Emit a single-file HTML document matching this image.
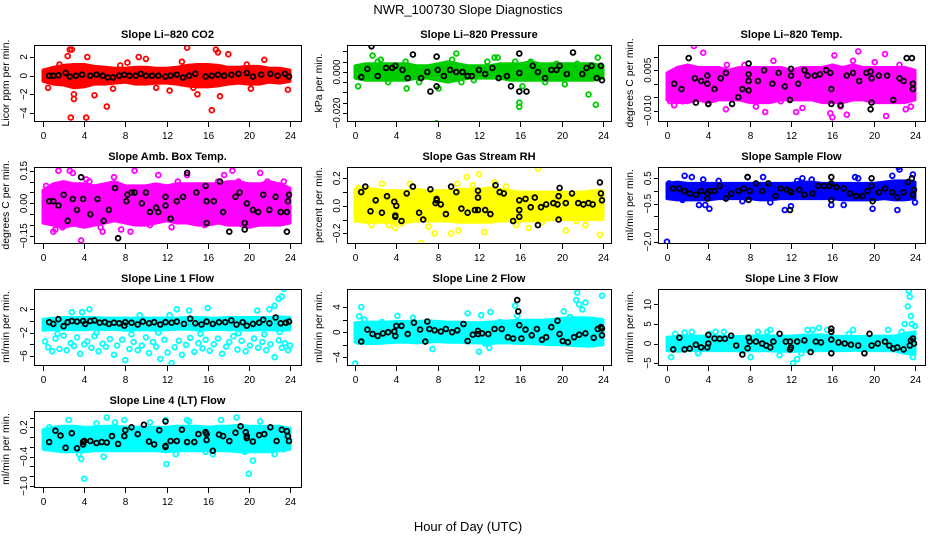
<!DOCTYPE html>
<html><head><meta charset="utf-8"><title>NWR_100730 Slope Diagnostics</title>
<style>
html,body{margin:0;padding:0;background:#fff;}
svg{display:block;font-family:"Liberation Sans",sans-serif;}
</style></head>
<body>
<svg id="chart" width="936" height="540" viewBox="0 0 936 540">
<rect x="0" y="0" width="936" height="540" fill="#fff"/>
<text x="468" y="14" text-anchor="middle" font-size="13">NWR_100730  Slope Diagnostics</text>
<text x="468" y="531" text-anchor="middle" font-size="13">Hour of Day (UTC)</text>
</svg>
<script>
// ---- shared x ticks ----
const hourTicks = [0,4,8,12,16,20,24];
const bandHours = [0,1,2,3,4,5,6,7,8,9,10,11,12,13,14,15,16,17,18,19,20,21,22,23,24];

// ---- Panel 1: CO2 ----
const co2Lo = [-0.6,-0.9,-1.0,-1.3,-1.2,-0.9,-0.9,-0.8,-0.7,-0.9,-0.9,-0.8,-0.8,-0.9,-1.1,-1.2,-1.2,-1.1,-0.9,-0.8,-0.9,-0.9,-0.7,-0.8,-0.6];
const co2Hi = [0.6,0.9,1.1,1.2,1.2,1.0,0.9,0.8,0.8,0.9,0.9,0.8,0.8,0.9,1.1,1.2,1.2,1.1,0.9,0.9,1.0,1.0,0.8,0.8,0.6];
const co2Out = [[2.6,2.8],[2.8,2.8],[2.4,2.1],[2.7,-4.5],[3.0,-2.0],[3.0,-2.5],[4.2,-4.5],[6.2,-3.3],[4.3,2.0],[5.0,-2.1],[9.3,2.0],[10.0,1.8],[13.5,1.5],[14.0,3.0],[15.0,-2.0],[16.4,-3.7],[16.8,2.8],[17.0,2.5],[17.2,-2.2],[18.0,2.3],[12.3,-1.6],[21.5,1.7],[23.8,-1.5],[0.5,-1.3],[8.2,1.4],[19.8,1.2],[11.0,-1.3],[1.6,1.2],[6.8,-1.4],[14.6,-1.3],[20.2,-1.4],[7.5,1.1]];
const co2Blk = [[0.6,0],[1,0],[1.5,0.05],[2.2,0.3],[2.6,-0.1],[3.2,0],[3.8,0.1],[4.6,0],[5.2,0.1],[5.8,0],[6.3,-0.2],[6.8,-0.2],[7.4,0],[7.9,0.1],[8.4,0],[9.0,0],[9.5,0.2],[10,0],[10.6,0],[11.2,0],[11.9,-0.1],[12.4,0],[13,0.1],[13.6,-0.2],[14.2,0],[14.8,0.2],[15.8,-0.1],[16.4,0],[17,0.1],[17.6,0],[18.3,0.1],[19,0.2],[19.8,0.3],[20.4,-0.1],[21.2,0.1],[22.1,0.2],[22.8,0],[23.5,0.2],[23.9,-0.1]];

// ---- Panel 2: Pressure ----
const presLo = [-0.003,-0.004,-0.004,-0.004,-0.004,-0.004,-0.003,-0.003,-0.004,-0.005,-0.004,-0.003,-0.003,-0.003,-0.003,-0.004,-0.004,-0.004,-0.004,-0.004,-0.004,-0.004,-0.004,-0.004,-0.003];
const presHi = [0.003,0.004,0.004,0.004,0.004,0.004,0.003,0.003,0.004,0.005,0.004,0.003,0.003,0.003,0.004,0.004,0.004,0.005,0.004,0.004,0.004,0.004,0.004,0.004,0.003];
const presOut = [[0.3,-0.007],[1.7,0.008],[2.2,0.005],[3.2,-0.005],[5.0,-0.008],[7.9,-0.025],[8.1,-0.008],[9.4,0.006],[9.8,0.009],[10.3,-0.005],[13.5,0.007],[13.8,0.007],[15.9,-0.015],[15.9,-0.017],[15.5,0.005],[16.2,-0.007],[17.0,0.005],[18.4,-0.005],[19.5,0.004],[22.6,-0.011],[23.3,-0.016],[23.5,0.007],[24.0,-0.026],[21.5,0.004],[11.5,-0.004],[6.2,-0.005],[2.5,0.006],[4.9,0.005],[12.8,0.005],[20.3,-0.006]];
const presBlk = [[0.6,-0.0025],[1.2,0.0015],[1.6,0.0125],[2.2,-0.002],[3.0,0.002],[3.6,0.002],[3.9,0.003],[4.6,0.001],[5.1,-0.003],[5.6,0.0085],[6.4,-0.003],[7.0,0],[7.3,-0.0095],[7.9,-0.007],[7.9,0.0075],[8.0,0.001],[8.6,-0.002],[9.2,0.001],[9.8,0],[10.4,0],[10.9,-0.002],[11.3,-0.002],[12.0,0.001],[12.6,-0.001],[13.3,0.002],[13.9,-0.003],[14.7,-0.002],[15.1,-0.007],[15.9,-0.0005],[15.9,0.009],[15.9,-0.0095],[16.6,-0.0095],[17.2,0.003],[17.7,0],[18.4,-0.003],[19.0,0.001],[19.5,0.001],[19.8,0.003],[20.5,-0.001],[21.1,0.0095],[22.0,-0.001],[22.4,0.002],[22.9,0.003],[23.4,-0.003],[23.8,0.003],[23.9,-0.004]];

// ---- Panel 3: Li-820 Temp ----
const tempLo = [-0.006,-0.007,-0.007,-0.006,-0.007,-0.006,-0.006,-0.006,-0.007,-0.007,-0.007,-0.006,-0.006,-0.006,-0.006,-0.007,-0.007,-0.007,-0.006,-0.006,-0.007,-0.007,-0.007,-0.007,-0.006];
const tempHi = [0.004,0.006,0.007,0.006,0.006,0.006,0.005,0.006,0.006,0.006,0.006,0.006,0.005,0.006,0.006,0.006,0.007,0.006,0.007,0.006,0.006,0.006,0.006,0.006,0.005];
const tempOut = [[2.6,0.014],[3.5,0.0115],[0.7,-0.008],[1.5,-0.0065],[2.7,-0.004],[5.7,-0.0095],[9.5,-0.0105],[11,-0.0065],[12.5,-0.0105],[13.1,-0.009],[15.8,-0.011],[16.0,-0.0125],[16.2,0.0105],[17.4,-0.0115],[18.5,0.012],[21.1,0.011],[21.2,-0.012],[23.1,-0.0095],[23.6,-0.0085],[16.8,-0.0085],[18.0,0.0085],[10.3,0.0085],[5.8,0.007],[7.5,0.007],[0.3,-0.0065],[4.0,-0.0075],[8.6,-0.0085],[20.1,0.008],[22.5,0.007]];
const tempBlk = [[0.7,0.000],[1.4,-0.002],[2.1,0.0095],[2.7,0.002],[2.8,-0.007],[3.3,0.001],[3.9,0.003],[3.9,0],[4.0,-0.0075],[4.6,-0.002],[5.2,0.002],[5.7,0.004],[6.3,-0.0075],[6.9,-0.005],[7.3,-0.002],[7.9,-0.0025],[7.9,0.001],[7.9,0.0075],[7.9,0.0035],[8.8,0.001],[9.4,0.005],[10.2,0],[10.8,0.004],[11.4,-0.001],[11.9,-0.006],[12.0,0.003],[12.0,0.0055],[12.7,0],[13.3,0.005],[13.6,0.003],[14.3,0.003],[14.8,0.0035],[15.4,0.005],[15.8,0.004],[15.9,-0.002],[15.9,-0.0075],[16.8,-0.008],[17.4,0.003],[18.0,0.004],[18.6,0.001],[19.3,0.004],[19.7,0.0045],[19.8,0.002],[19.8,-0.007],[19.7,-0.0095],[20.5,0.003],[21.3,0.003],[21.9,-0.006],[22.5,0.002],[22.9,0.001],[23.2,0.0095],[23.7,0.0095],[23.8,0],[23.8,-0.002]];

// ---- Panel 4: Amb. Box Temp ----
const ambLo = [-0.09,-0.10,-0.11,-0.10,-0.11,-0.10,-0.09,-0.08,-0.09,-0.10,-0.10,-0.09,-0.08,-0.09,-0.09,-0.10,-0.10,-0.09,-0.10,-0.10,-0.11,-0.10,-0.10,-0.10,-0.09];
const ambHi = [0.06,0.09,0.10,0.09,0.09,0.08,0.09,0.10,0.08,0.08,0.08,0.09,0.08,0.09,0.09,0.09,0.09,0.09,0.10,0.10,0.09,0.09,0.10,0.09,0.07];
const ambOut = [[0.3,0.08],[0.5,-0.08],[1.2,-0.12],[1.5,0.15],[1.9,-0.11],[2.6,0.15],[2.9,0.14],[3.7,-0.17],[4.2,0.11],[4.5,0.1],[5.6,-0.11],[6.4,0.08],[6.9,0.12],[7.6,-0.12],[8.9,0.15],[9.5,-0.08],[10.4,-0.1],[10.8,0.05],[11.2,0.13],[12.5,-0.11],[13.1,0.1],[14.0,0.13],[14.5,-0.07],[15.7,-0.1],[17.0,0.1],[17.6,0.13],[18.4,0.15],[19.0,0.1],[19.9,-0.1],[20.3,-0.1],[21.1,0.14],[21.8,0.1],[22.4,-0.09],[23.4,0.1],[1.0,-0.13],[5.8,-0.13],[8.5,-0.13]];
const ambBlk = [[0.6,0.01],[1.0,0.01],[1.5,-0.01],[2.0,0.04],[2.4,-0.08],[2.9,0.02],[3.3,-0.03],[3.7,0.12],[3.9,0.02],[4.6,-0.05],[5.3,0.02],[5.9,-0.08],[6.4,-0.03],[7.0,0.07],[7.3,-0.16],[8.1,0.01],[8.2,0.04],[8.6,0.05],[8.9,0.05],[9.6,0.00],[10.0,0.05],[10.4,-0.04],[11.0,-0.02],[11.2,-0.04],[11.9,-0.01],[11.9,0.03],[12.4,-0.07],[13.0,0.01],[13.6,0.03],[14.0,0.14],[14.9,0.05],[15.8,0.08],[15.9,0.01],[15.9,-0.09],[16.6,0.01],[17.2,0.1],[17.5,-0.04],[18.1,-0.13],[18.7,0.03],[19.1,0.05],[19.6,-0.09],[19.8,0.00],[19.6,-0.12],[20.4,-0.03],[20.9,-0.04],[21.4,0.04],[22.0,-0.03],[22.6,0.03],[23.1,-0.04],[23.7,-0.04],[23.8,0.01],[23.7,-0.13],[23.9,0.04]];

// ---- Panel 5: Gas Stream RH ----
const rhLo = [-0.11,-0.12,-0.12,-0.12,-0.13,-0.12,-0.11,-0.11,-0.11,-0.11,-0.12,-0.12,-0.12,-0.12,-0.11,-0.11,-0.11,-0.11,-0.11,-0.10,-0.10,-0.10,-0.10,-0.10,-0.10];
const rhHi = [0.12,0.13,0.12,0.11,0.11,0.11,0.12,0.11,0.11,0.11,0.12,0.12,0.12,0.13,0.12,0.11,0.10,0.10,0.10,0.10,0.10,0.10,0.10,0.11,0.11];
const rhOut = [[0.3,0.13],[1.0,-0.1],[2.6,0.16],[3.3,-0.14],[3.9,-0.16],[4.5,-0.13],[6.4,-0.27],[7.1,-0.15],[7.7,-0.2],[8.7,0.1],[9.3,-0.2],[9.9,0.16],[10.0,-0.18],[10.8,0.21],[11.4,0.15],[12.0,0.23],[12.5,-0.19],[13.5,0.17],[14.6,0.14],[17.7,0.27],[18.1,-0.12],[20.4,-0.18],[21.4,-0.11],[22.3,-0.14],[23.7,-0.21],[5.3,0.16],[1.6,-0.14],[15.6,-0.14],[16.8,-0.16]];
const rhBlk = [[0.6,0.1],[1.0,0.14],[1.5,-0.04],[2.0,0.04],[2.6,-0.05],[3.1,0.07],[3.8,0.03],[3.9,-0.08],[3.9,-0.07],[4.0,0.00],[4.5,-0.11],[5.0,0.09],[5.6,0.14],[6.2,-0.05],[6.6,-0.1],[7.3,0.12],[7.8,0.02],[7.9,0.05],[7.9,0.04],[8.3,0.01],[8.8,-0.06],[9.3,0.14],[9.8,0.10],[10.3,-0.02],[10.9,-0.05],[11.6,-0.03],[11.9,0.06],[11.9,0.11],[11.9,-0.03],[12.6,-0.03],[13.1,-0.06],[13.6,0.15],[14.0,0.10],[14.4,0.09],[15.3,-0.11],[15.9,-0.08],[15.9,0.04],[15.9,-0.03],[16.5,0.05],[17.0,-0.01],[17.4,0.06],[17.7,-0.14],[18.0,-0.01],[18.5,0.01],[19.2,0.02],[19.6,0.01],[19.7,0.07],[19.8,0.13],[19.7,-0.10],[20.4,0.02],[21.0,0.09],[21.6,0.02],[22.1,0.01],[22.6,0.02],[23.0,0.01],[23.7,0.17],[23.8,0.09],[23.9,0.04]];

// ---- Panel 6: Sample Flow ----
const sfLo = [-0.3,-0.35,-0.35,-0.35,-0.35,-0.3,-0.3,-0.3,-0.3,-0.35,-0.35,-0.3,-0.3,-0.3,-0.3,-0.3,-0.3,-0.35,-0.35,-0.35,-0.35,-0.3,-0.35,-0.35,-0.3];
const sfHi = [0.3,0.35,0.3,0.3,0.3,0.3,0.3,0.3,0.3,0.3,0.3,0.3,0.3,0.35,0.35,0.3,0.3,0.3,0.3,0.3,0.3,0.35,0.4,0.4,0.35];
const sfOut = [[0,-2.0],[0.2,0.3],[1.5,-0.35],[1.7,0.6],[2.4,0.55],[3.1,-0.55],[3.5,0.45],[3.7,-0.55],[4.1,-0.7],[7.3,-0.4],[7.8,0.55],[9.3,0.55],[11.4,-0.75],[12.0,-0.6],[13.1,0.5],[15.9,-0.55],[17.1,-0.55],[18.2,0.55],[18.5,0.5],[19.9,-0.7],[21.8,0.6],[22.3,-0.75],[22.4,0.95],[22.5,0.85],[23.8,0.65],[24.0,-0.45],[12.6,0.4],[14.0,0.45],[5.0,0.4],[10.0,-0.45]];
const sfBlk = [[0.6,0.1],[1.2,0.1],[1.7,0.0],[2.2,-0.1],[2.8,-0.15],[3.3,0.0],[3.9,-0.1],[3.9,-0.3],[4.1,0.0],[4.6,0.0],[5.1,0.2],[5.7,-0.3],[6.2,-0.1],[6.9,0.0],[7.4,0.1],[7.8,0.55],[7.9,-0.35],[8.0,0.0],[8.6,0.3],[9.2,0.0],[9.8,0.3],[10.5,-0.2],[11.0,0.1],[11.6,0.05],[11.9,0.0],[11.9,-0.75],[12.0,-0.05],[12.8,0.05],[13.3,-0.15],[14.1,-0.1],[14.6,0.2],[15.2,0.2],[15.7,0.2],[15.9,0.55],[15.9,0.3],[15.9,-0.35],[16.4,0.15],[17.1,0.1],[17.7,-0.1],[18.3,-0.2],[18.9,-0.2],[19.4,0.0],[19.8,0.5],[19.9,-0.4],[19.8,0.2],[20.5,-0.05],[21.1,0.1],[21.8,-0.05],[22.3,-0.25],[22.9,-0.05],[23.3,0.35],[23.7,0.5],[23.8,-0.15],[23.9,0.05]];

// ---- Panel 7: Line 1 Flow ----
const l1Lo = [-1.6,-1.5,-1.4,-1.5,-1.5,-1.4,-1.5,-1.4,-1.6,-1.5,-1.5,-1.6,-1.5,-1.4,-1.4,-1.5,-1.5,-1.4,-1.5,-1.5,-1.6,-1.5,-1.5,-1.6,-1.5];
const l1Hi = [0.3,0.5,0.6,0.6,0.6,0.6,0.5,0.5,0.5,0.5,0.5,0.5,0.5,0.5,0.6,0.6,0.5,0.5,0.6,0.6,0.6,0.6,0.6,0.7,0.6];
const l1Out = [[0.2,-3.5],[0.5,-4.5],[0.9,-5.2],[1.2,-3.0],[1.6,-4.8],[2.0,-2.5],[2.3,-5.0],[2.7,-3.8],[3.0,-4.3],[3.3,-2.8],[3.6,-5.6],[4.0,-4.0],[4.3,-3.5],[4.7,-4.6],[5.0,-2.6],[5.4,-5.2],[5.8,-3.9],[6.1,-4.4],[6.5,-3.1],[6.9,-5.8],[7.2,-4.2],[7.7,-3.2],[8.0,-6.7],[8.4,-4.8],[8.8,-3.6],[9.2,-5.0],[9.6,-4.2],[10.0,-2.8],[10.3,-5.5],[10.7,-3.6],[11.0,-4.4],[11.4,-6.5],[11.8,-3.2],[12.1,-5.4],[12.5,-7.2],[12.8,-4.5],[13.2,-3.4],[13.5,-5.8],[13.9,-4.1],[14.3,-2.9],[14.7,-5.3],[15.1,-3.8],[15.5,-4.7],[15.8,-3.2],[16.2,-5.1],[16.6,-4.0],[17.0,-3.0],[17.4,-5.6],[17.8,-4.4],[18.1,-3.6],[18.5,-2.6],[18.9,-4.9],[19.3,-3.4],[19.7,-5.2],[20.1,-4.2],[20.5,-3.0],[20.9,-4.6],[21.3,-3.6],[21.7,-5.0],[22.1,-4.0],[22.5,-6.2],[22.9,-3.3],[23.2,-4.6],[23.5,-3.8],[23.8,-5.0],[24.0,-4.2],[2.8,1.5],[3.8,1.5],[4.5,2.0],[12.3,1.0],[13.0,2.0],[14.2,1.8],[16.0,2.2],[20.8,1.8],[22.0,2.0],[22.5,2.6],[22.9,3.8],[23.2,4.2],[23.4,5.5],[23.0,-1.9],[9.4,1.0],[1.4,-2.2],[5.2,-2.0],[8.6,-2.3],[11.2,-2.0],[15.3,-2.2],[19.0,-2.1],[21.5,-2.3]];
const l1Blk = [[0.6,-0.2],[1.0,-0.5],[1.5,0.3],[2.0,-0.9],[2.4,-0.2],[2.8,0.0],[3.3,-0.1],[3.9,0.0],[4.1,-0.5],[4.6,0.0],[5.0,0.1],[5.5,-0.3],[6.0,-0.2],[6.4,-0.5],[6.9,-0.3],[7.4,-0.4],[7.9,-0.8],[8.0,-0.2],[8.6,-0.3],[9.2,-0.6],[9.7,-0.1],[10.3,-0.4],[10.8,-0.2],[11.4,-0.6],[11.9,-0.2],[12.5,-0.3],[13.0,-0.1],[13.7,-0.5],[14.3,0.4],[14.8,-0.4],[15.4,-0.6],[15.9,-0.1],[16.5,-0.5],[17.1,-0.2],[17.7,-0.2],[18.3,0.1],[18.8,-0.6],[19.4,-0.2],[19.8,-0.8],[20.4,-0.5],[21.0,-0.3],[21.4,0.2],[22.0,-0.4],[22.6,0.6],[23.1,-0.4],[23.6,-0.3],[23.9,-0.1]];

// ---- Panel 8: Line 2 Flow ----
const l2Lo = [-1.6,-1.8,-1.8,-1.7,-1.6,-1.6,-1.7,-1.6,-1.5,-1.6,-1.6,-1.7,-1.7,-1.8,-1.7,-1.7,-1.8,-1.8,-1.9,-2.0,-2.0,-2.1,-2.2,-2.2,-2.0];
const l2Hi = [1.5,1.6,1.6,1.6,1.7,1.7,1.7,1.8,1.7,1.6,1.6,1.5,1.5,1.6,1.7,1.8,1.9,1.9,1.9,2.0,2.2,2.3,2.3,2.2,2.0];
const l2Out = [[0.0,-5.0],[0.3,-1.5],[0.4,2.5],[0.6,4.0],[0.9,2.0],[2.6,1.6],[4.1,2.6],[5.6,2.3],[7.5,-2.7],[10.9,3.0],[12.2,2.7],[12.6,-1.8],[13.0,-2.5],[14.0,1.6],[14.9,1.0],[15.5,4.2],[15.7,2.6],[16.8,-1.5],[17.9,-1.2],[19.4,-1.6],[20.2,3.3],[20.8,2.4],[21.2,-1.0],[21.4,5.1],[21.5,6.3],[21.7,4.4],[22.0,3.6],[22.3,4.7],[22.5,-2.0],[23.9,5.8],[12.0,-3.1],[13.1,3.2]];
const l2Blk = [[0.6,-1.5],[1.2,0.4],[1.7,-0.3],[2.2,-0.6],[2.7,-0.2],[3.2,0.0],[3.8,0.1],[3.9,-0.6],[4.0,1.0],[4.5,1.0],[5.1,-0.3],[5.7,1.5],[6.3,0.4],[6.8,-1.5],[7.0,1.7],[7.2,0.5],[7.7,0.3],[8.3,0.1],[8.8,0.5],[9.4,0.0],[9.9,0.3],[10.5,1.3],[10.9,-1.4],[11.4,-0.4],[11.9,0.2],[11.9,-0.3],[12.3,-0.2],[12.9,-0.3],[13.5,0.5],[14.2,0.5],[14.8,-0.8],[15.3,-1.0],[15.7,5.1],[15.8,3.3],[15.9,1.1],[16.1,-1.0],[16.5,0.4],[17.1,-0.5],[17.6,0.5],[18.1,-1.2],[18.5,-0.8],[19.0,0.8],[19.6,1.8],[19.8,-0.3],[20.1,-1.4],[20.6,-1.6],[21.2,-0.8],[21.7,-0.4],[22.3,-0.2],[23.1,-0.9],[23.5,0.5],[23.8,0.8],[23.9,0.6],[23.9,-0.5]];

// ---- Panel 9: Line 3 Flow ----
const l3Lo = [-1.8,-2.0,-1.8,-1.8,-1.8,-1.8,-1.8,-1.9,-1.9,-1.8,-1.9,-2.0,-2.0,-2.0,-1.9,-1.8,-1.8,-1.8,-1.7,-1.8,-1.8,-1.8,-1.9,-2.5,-2.8];
const l3Hi = [1.6,1.8,2.0,1.9,1.9,1.9,1.8,1.8,1.9,2.0,2.0,1.9,1.9,2.1,2.2,2.2,1.9,1.8,1.8,1.8,1.9,1.9,1.9,2.6,3.0];
const l3Out = [[0.4,-3.5],[0.8,2.5],[1.7,2.8],[2.4,3.0],[3.0,-2.5],[4.1,2.5],[4.7,3.0],[5.5,3.0],[7.4,-1.8],[8.1,-3.5],[8.8,3.0],[9.7,3.0],[10.0,3.5],[10.9,-3.0],[11.4,-1.0],[12.2,-5.0],[12.6,-4.0],[13.0,-2.5],[13.6,3.5],[14.1,3.5],[14.7,4.0],[15.5,3.5],[17.6,2.5],[18.0,3.5],[21.4,3.5],[22.9,-0.5],[23.4,13.5],[23.5,12.0],[23.3,9.5],[23.6,7.0],[23.7,5.0],[23.8,-3.5],[24.0,4.5],[23.0,5.0],[22.7,3.0]];
const l3Blk = [[0.6,-1.5],[1.2,1.5],[1.7,-1.5],[2.2,-1.3],[2.8,-0.3],[3.3,-1.0],[3.9,-1.0],[4.0,2.2],[4.0,0.0],[4.6,1.3],[5.1,1.2],[5.6,1.2],[6.2,2.0],[6.7,-0.5],[7.3,-2.8],[7.8,-1.2],[7.9,1.5],[8.0,0.5],[8.6,0.5],[9.2,0.0],[9.6,-0.5],[10.0,-1.0],[10.3,0.5],[10.9,2.5],[11.5,0.5],[11.9,-1.5],[11.9,0.5],[12.0,-1.0],[12.6,0.5],[13.3,0.8],[13.9,-2.2],[14.4,0.5],[14.9,0.3],[15.9,-2.5],[15.9,3.8],[15.9,3.0],[15.9,1.0],[16.6,0.3],[17.2,0.0],[17.8,-0.3],[18.5,-0.5],[19.1,-2.5],[19.6,2.5],[19.8,-0.5],[20.4,0.0],[21.1,0.5],[21.5,-0.5],[21.9,-1.3],[22.3,-1.0],[22.9,-1.5],[23.5,-0.5],[23.8,1.3],[23.9,0.0],[23.6,0.8]];

// ---- Panel 10: Line 4 (LT) Flow ----
const l4Lo = [-0.25,-0.28,-0.30,-0.30,-0.30,-0.28,-0.28,-0.28,-0.28,-0.28,-0.28,-0.28,-0.30,-0.28,-0.28,-0.28,-0.28,-0.28,-0.28,-0.30,-0.30,-0.30,-0.30,-0.28,-0.25];
const l4Hi = [0.15,0.20,0.22,0.22,0.20,0.20,0.22,0.22,0.20,0.20,0.20,0.20,0.20,0.22,0.22,0.22,0.20,0.22,0.22,0.24,0.22,0.22,0.22,0.22,0.18];
const l4Out = [[0.6,0.2],[2.5,0.35],[3.5,-0.35],[3.7,-0.45],[4.0,-0.85],[5.2,0.28],[5.9,-0.4],[6.2,0.4],[7.0,0.3],[7.9,0.35],[10.4,0.3],[11.9,0.35],[12.0,-0.55],[12.9,-0.35],[14.0,0.35],[14.2,0.32],[15.8,-0.3],[16.5,-0.35],[17.3,0.35],[18.8,0.4],[19.6,-0.3],[20.0,-0.75],[20.4,-0.48],[21.1,0.32],[22.5,-0.35],[23.4,-0.25]];
const l4Blk = [[0.6,-0.1],[1.2,0.13],[1.7,0.03],[2.2,-0.22],[2.8,0.08],[3.3,-0.23],[3.9,-0.1],[3.9,-0.15],[4.0,-0.08],[4.6,-0.08],[5.2,-0.12],[5.7,-0.1],[6.2,-0.11],[6.7,0.02],[7.3,-0.14],[7.9,0.02],[8.0,0.14],[8.6,0.2],[9.2,0.06],[9.8,0.25],[10.3,-0.09],[10.8,-0.15],[11.3,0.14],[11.9,-0.2],[11.9,-0.18],[11.9,0.32],[12.4,-0.08],[13.0,-0.08],[13.5,0.15],[14.0,-0.1],[14.7,-0.1],[15.1,0.06],[15.8,0.1],[15.9,-0.06],[15.9,0.06],[16.5,-0.28],[17.1,0.05],[17.5,0.02],[18.1,-0.08],[18.7,0.09],[19.2,0.22],[19.7,0.1],[19.8,0.02],[19.8,-0.02],[20.4,-0.09],[21.0,0.04],[21.5,0.06],[22.1,0.2],[22.7,-0.08],[23.2,0.15],[23.7,0.12],[23.8,0.02],[23.9,-0.08]];

// ---- panel definitions (layout only) ----
const cols = [{bx:34,bw:267,t0:43,t24:290},{bx:347,bw:264,t0:355,t24:603},{bx:658,bw:267,t0:667,t24:915}];
const panels = [
 {name:'co2',title:'Slope Li\u2013820 CO2',ylab:'Licor ppm per min.',c:0,r:0,ymin:-4.86,ymax:3.29,ticks:[-4,-2,0,2],labs:[-4,-2,0,2],fmt:0,col:'#ff0000',lo:co2Lo,hi:co2Hi,out:co2Out,blk:co2Blk},
 {name:'pressure',title:'Slope Li\u2013820 Pressure',ylab:'kPa per min.',c:1,r:0,ymin:-0.0239,ymax:0.01315,ticks:[-0.02,-0.015,-0.01,-0.005,0,0.005,0.01],labs:[-0.02,0],fmt:3,col:'#00cd00',lo:presLo,hi:presHi,out:presOut,blk:presBlk},
 {name:'li820-temp',title:'Slope Li\u2013820 Temp.',ylab:'degrees C per min.',c:2,r:0,ymin:-0.01384,ymax:0.01437,ticks:[-0.01,-0.005,0,0.005,0.01],labs:[-0.01,0.005],fmt:3,col:'#ff00ff',lo:tempLo,hi:tempHi,out:tempOut,blk:tempBlk},
 {name:'amb-box-temp',title:'Slope Amb. Box Temp.',ylab:'degrees C per min.',c:0,r:1,ymin:-0.182,ymax:0.167,ticks:[-0.15,-0.1,-0.05,0,0.05,0.1,0.15],labs:[-0.15,0,0.15],fmt:2,col:'#ff00ff',lo:ambLo,hi:ambHi,out:ambOut,blk:ambBlk},
 {name:'gas-stream-rh',title:'Slope Gas Stream RH',ylab:'percent per min.',c:1,r:1,ymin:-0.27,ymax:0.282,ticks:[-0.2,-0.1,0,0.1,0.2],labs:[-0.2,0,0.2],fmt:1,col:'#ffff00',lo:rhLo,hi:rhHi,out:rhOut,blk:rhBlk},
 {name:'sample-flow',title:'Slope Sample Flow',ylab:'ml/min per min.',c:2,r:1,ymin:-2.05,ymax:0.947,ticks:[-2,-1.5,-1,-0.5,0,0.5],labs:[-2,-0.5,0.5],fmt:1,col:'#0000ff',lo:sfLo,hi:sfHi,out:sfOut,blk:sfBlk},
 {name:'line1-flow',title:'Slope Line 1 Flow',ylab:'ml/min per min.',c:0,r:2,ymin:-7.54,ymax:5.48,ticks:[-6,-4,-2,0,2],labs:[-6,-2,2],fmt:0,col:'#00ffff',lo:l1Lo,hi:l1Hi,out:l1Out,blk:l1Blk},
 {name:'line2-flow',title:'Slope Line 2 Flow',ylab:'ml/min per min.',c:1,r:2,ymin:-5.22,ymax:6.86,ticks:[-4,-2,0,2,4],labs:[-4,0,4],fmt:0,col:'#00ffff',lo:l2Lo,hi:l2Hi,out:l2Out,blk:l2Blk},
 {name:'line3-flow',title:'Slope Line 3 Flow',ylab:'ml/min per min.',c:2,r:2,ymin:-5.5,ymax:13.97,ticks:[-5,0,5,10],labs:[-5,0,5,10],fmt:0,col:'#00ffff',lo:l3Lo,hi:l3Hi,out:l3Out,blk:l3Blk},
 {name:'line4-flow',title:'Slope Line 4 (LT) Flow',ylab:'ml/min per min.',c:0,r:3,ymin:-1.02,ymax:0.533,ticks:[-1,-0.8,-0.6,-0.4,-0.2,0,0.2,0.4],labs:[-1,-0.4,0.2],fmt:1,col:'#00ffff',lo:l4Lo,hi:l4Hi,out:l4Out,blk:l4Blk}
];

const NS='http://www.w3.org/2000/svg';
const svg=document.getElementById('chart');
function mk(tag,attrs,parent){const e=document.createElementNS(NS,tag);for(const k in attrs)e.setAttribute(k,attrs[k]);parent.appendChild(e);return e;}
function fmtNum(v,d){let s=v.toFixed(d);if(parseFloat(s)===0)s=(0).toFixed(d);return s.replace('-','\u2212');}

panels.forEach(p=>{
  const C=cols[p.c];
  const top=45+p.r*122, h=76, bot=top+h;
  const xs=hr=>C.t0+(C.t24-C.t0)*hr/24;
  const ys=v=>bot-(v-p.ymin)/(p.ymax-p.ymin)*h;
  const g=mk('g',{},svg);
  
  
  const clipId='clip-'+p.name;
  const cp=mk('clipPath',{id:clipId},g);
  mk('rect',{x:C.bx,y:top,width:C.bw,height:h},cp);
  const t=mk('text',{x:C.bx+C.bw/2,y:top-7,'text-anchor':'middle','font-size':'11','font-weight':'bold'},g);
  t.textContent=p.title;
  
  
  const yl=mk('text',{x:0,y:0,'text-anchor':'middle','font-size':'10.5',transform:`translate(${C.bx-25},${top+h/2}) rotate(-90)`},g);
  yl.textContent=p.ylab;
  
  
  const pg=mk('g',{'clip-path':`url(#${clipId})`},g);
  
  
  let pts=[];
  bandHours.forEach((hr,i)=>pts.push(xs(hr).toFixed(1)+','+ys(p.hi[i]).toFixed(1)));
  for(let i=bandHours.length-1;i>=0;i--)pts.push(xs(bandHours[i]).toFixed(1)+','+ys(p.lo[i]).toFixed(1));
  const band=mk('polygon',{points:pts.join(' '),fill:p.col,stroke:p.col,'stroke-width':'3','stroke-linejoin':'round'},pg);
  
  
  p.out.forEach(d=>{
    const c=mk('circle',{cx:xs(d[0]).toFixed(1),cy:ys(d[1]).toFixed(1),r:2.4,fill:'none',stroke:p.col,'stroke-width':'1.8'},pg);
    
    
  });
  p.blk.forEach(d=>{
    const c=mk('circle',{cx:xs(d[0]).toFixed(1),cy:ys(d[1]).toFixed(1),r:2.4,fill:'none',stroke:'#000','stroke-width':'1.8'},pg);
    
    
  });
  const box=mk('rect',{x:C.bx+0.5,y:top+0.5,width:C.bw,height:h,fill:'none',stroke:'#000','stroke-width':'1'},g);
  
  
  hourTicks.forEach(hr=>{
    const x=Math.round(xs(hr))+0.5;
    mk('line',{x1:x,x2:x,y1:bot+1,y2:bot+6,stroke:'#000','stroke-width':'1'},g);
    const tl=mk('text',{x:x,y:bot+18,'text-anchor':'middle','font-size':'10'},g);
    tl.textContent=String(hr);
    
    
  });
  p.ticks.forEach(v=>{
    const y=Math.round(ys(v))+0.5;
    mk('line',{x1:C.bx-4,x2:C.bx,y1:y,y2:y,stroke:'#000','stroke-width':'1'},g);
  });
  p.labs.forEach(v=>{
    const y=ys(v);
    const tl=mk('text',{x:0,y:0,'text-anchor':'middle','font-size':'10',transform:`translate(${C.bx-7},${y.toFixed(1)}) rotate(-90)`},g);
    tl.textContent=fmtNum(v,p.fmt);
    
    
  });
});
</script>
</body></html>
